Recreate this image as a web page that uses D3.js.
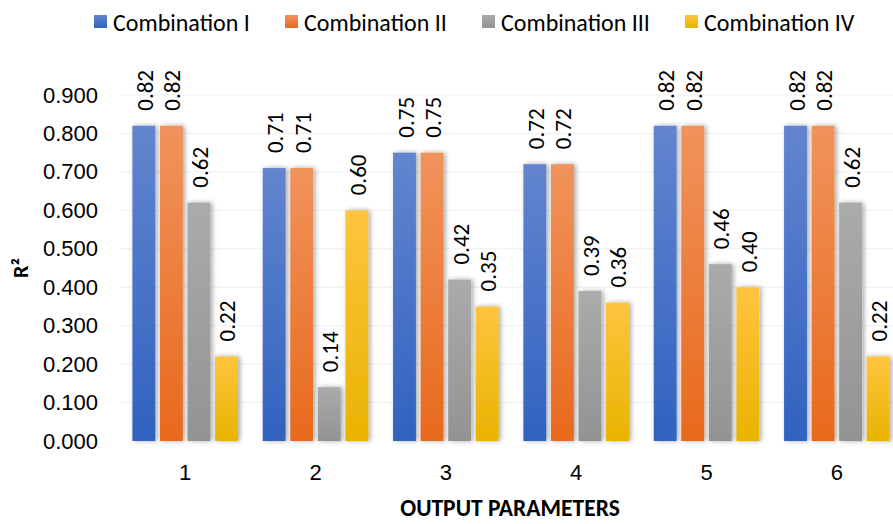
<!DOCTYPE html>
<html>
<head>
<meta charset="utf-8">
<script src="https://cdn.jsdelivr.net/npm/d3@7/dist/d3.min.js"></script>
<style>
  html, body { margin: 0; padding: 0; background: #fff; }
  svg { display: block; font-family: Carlito, Calibri, "Open Sans", sans-serif; }
</style>
</head>
<body>
<svg id="chart" width="893" height="524"></svg>
<script>
// Output parameters along the x axis
const categories = ["1", "2", "3", "4", "5", "6"];
// Input combinations (series)
const seriesNames = ["Combination I", "Combination II", "Combination III", "Combination IV"];
// R² per output parameter, one array per combination
const combinationI   = [0.82, 0.71, 0.75, 0.72, 0.82, 0.82];
const combinationII  = [0.82, 0.71, 0.75, 0.72, 0.82, 0.82];
const combinationIII = [0.62, 0.14, 0.42, 0.39, 0.46, 0.62];
const combinationIV  = [0.22, 0.60, 0.35, 0.36, 0.40, 0.22];
const yTicks = [0, 0.1, 0.2, 0.3, 0.4, 0.5, 0.6, 0.7, 0.8, 0.9];

const seriesValues = [combinationI, combinationII, combinationIII, combinationIV];
const palette = [
  { top: "#6385cf", bottom: "#3062c0" },
  { top: "#f1935c", bottom: "#e8691c" },
  { top: "#ababab", bottom: "#939393" },
  { top: "#ffc43f", bottom: "#e9b300" }
];

const svg = d3.select("#chart");
const margin = { left: 120, right: -9 };
const W = 893;

const x0 = d3.scaleBand().domain(categories).range([margin.left, W - margin.right]).paddingInner(0).paddingOuter(0);
const x1 = d3.scaleBand().domain(d3.range(seriesNames.length)).range([0, x0.bandwidth()]).paddingInner(0.17).paddingOuter(0.45);
const y = d3.scaleLinear().domain([0, 0.9]).range([441, 95]);

const defs = svg.append("defs");
palette.forEach((p, i) => {
  const g = defs.append("linearGradient").attr("id", "grad" + i)
    .attr("x1", 0).attr("y1", 0).attr("x2", 0).attr("y2", 1);
  g.append("stop").attr("offset", "0%").attr("stop-color", p.top);
  g.append("stop").attr("offset", "100%").attr("stop-color", p.bottom);
});
const shadow = defs.append("filter").attr("id", "shadow")
  .attr("x", "-40%").attr("y", "-10%").attr("width", "180%").attr("height", "120%");
shadow.append("feGaussianBlur").attr("in", "SourceAlpha").attr("stdDeviation", 2.5).attr("result", "blur");
shadow.append("feOffset").attr("in", "blur").attr("dx", 2).attr("dy", 0).attr("result", "off");
shadow.append("feComponentTransfer").attr("in", "off").attr("result", "soft")
  .append("feFuncA").attr("type", "linear").attr("slope", 0.35);
const merge = shadow.append("feMerge");
merge.append("feMergeNode").attr("in", "soft");
merge.append("feMergeNode").attr("in", "SourceGraphic");

// Gridlines
svg.append("g").selectAll("line").data(yTicks.slice(1)).join("line")
  .attr("x1", margin.left).attr("x2", W)
  .attr("y1", d => y(d)).attr("y2", d => y(d))
  .attr("stroke", "#efefef").attr("stroke-width", 1);

// Y axis labels
const yAxis = d3.axisLeft(y).tickValues(yTicks).tickFormat(d3.format(".3f")).tickSize(0).tickPadding(0);
const gy = svg.append("g").attr("transform", "translate(98,0)").call(yAxis);
gy.select(".domain").remove();
gy.selectAll("text").attr("font-size", 22).attr("fill", "#000").attr("font-family", null);

// Bars and value labels
const groups = svg.append("g").selectAll("g").data(categories).join("g")
  .attr("transform", d => `translate(${x0(d)},0)`);

groups.each(function (cat, ci) {
  const g = d3.select(this);
  seriesValues.forEach((vals, si) => {
    const v = vals[ci];
    g.append("rect")
      .attr("x", x1(si)).attr("y", y(v))
      .attr("width", x1.bandwidth()).attr("height", y(0) - y(v))
      .attr("fill", `url(#grad${si})`)
      .attr("filter", "url(#shadow)");
    const cx = x1(si) + x1.bandwidth() / 2 + 1;
    const ty = y(v) - 15;
    g.append("text")
      .attr("transform", `translate(${cx},${ty}) rotate(-90)`)
      .attr("text-anchor", "start")
      .attr("dominant-baseline", "central")
      .attr("font-size", 23)
      .attr("fill", "#000")
      .text(v.toFixed(2));
  });
});

// Baseline
svg.append("line")
  .attr("x1", margin.left).attr("x2", W)
  .attr("y1", y(0) + 0.5).attr("y2", y(0) + 0.5)
  .attr("stroke", "#8c8c8c").attr("stroke-width", 3)
  .attr("filter", "url(#shadow)");

// X axis labels
const xAxis = d3.axisBottom(x0).tickSize(0).tickPadding(0);
const gx = svg.append("g").attr("transform", `translate(0,${y(0) + 33})`).call(xAxis);
gx.select(".domain").remove();
gx.selectAll("text").attr("font-size", 22).attr("fill", "#000").attr("font-family", null)
  .attr("dy", null).attr("dominant-baseline", "middle");

// Axis titles
svg.append("text")
  .attr("x", 510).attr("y", 516)
  .attr("text-anchor", "middle")
  .attr("font-size", 23.5).attr("font-weight", "bold").attr("fill", "#000")
  .text("OUTPUT PARAMETERS");

svg.append("text")
  .attr("transform", "translate(28,268) rotate(-90)")
  .attr("text-anchor", "middle")
  .attr("font-size", 22).attr("font-weight", "bold").attr("fill", "#000")
  .text("R²");

// Legend
const legendX = [94, 285, 482, 685];
const legend = svg.append("g").selectAll("g").data(seriesNames).join("g")
  .attr("transform", (d, i) => `translate(${legendX[i]},15)`);
legend.append("rect").attr("width", 13).attr("height", 13)
  .attr("fill", (d, i) => `url(#grad${i})`);
legend.append("text").attr("x", 19).attr("y", 7.5)
  .attr("dominant-baseline", "central")
  .attr("font-size", 24).attr("fill", "#000")
  .text(d => d);
</script>
</body>
</html>
